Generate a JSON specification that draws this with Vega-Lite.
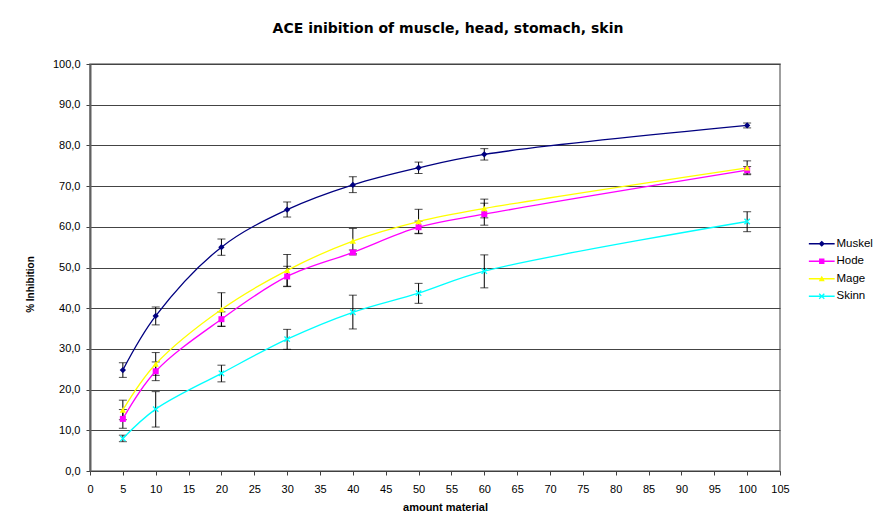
{
  "$schema": "https://vega.github.io/schema/vega-lite/v6.json",
  "width": 690,
  "height": 407,
  "autosize": "none",
  "padding": {"left": 90, "top": 64, "right": 99, "bottom": 50},
  "background": "white",
  "config": {
    "font": "Liberation Sans",
    "view": {"stroke": "#808080", "strokeWidth": 1.5},
    "axis": {"labelFont": "Liberation Sans", "titleFont": "Liberation Sans", "labelColor": "black", "titleColor": "black"}
  },
  "title": {
    "text": "ACE inibition of muscle, head, stomach, skin",
    "fontSize": 14,
    "fontWeight": "bold",
    "font": "DejaVu Sans",
    "anchor": "middle",
    "dx": 13,
    "offset": 22,
    "color": "black"
  },
  "data": {
    "values": [
      {"x": 5, "series": "Muskel", "y": 24.8, "lo": 23.0, "hi": 26.6},
      {"x": 10, "series": "Muskel", "y": 38.1, "lo": 35.9, "hi": 40.3},
      {"x": 20, "series": "Muskel", "y": 55.0, "lo": 53.0, "hi": 57.0},
      {"x": 30, "series": "Muskel", "y": 64.2, "lo": 62.4, "hi": 66.1},
      {"x": 40, "series": "Muskel", "y": 70.3, "lo": 68.4, "hi": 72.3},
      {"x": 50, "series": "Muskel", "y": 74.5, "lo": 73.1, "hi": 75.9},
      {"x": 60, "series": "Muskel", "y": 77.8, "lo": 76.4, "hi": 79.2},
      {"x": 100, "series": "Muskel", "y": 84.9, "lo": 84.3, "hi": 85.5},
      {"x": 5, "series": "Hode", "y": 12.8, "lo": 10.5, "hi": 15.1},
      {"x": 10, "series": "Hode", "y": 24.5, "lo": 22.2, "hi": 26.8},
      {"x": 20, "series": "Hode", "y": 37.3, "lo": 35.5, "hi": 39.1},
      {"x": 30, "series": "Hode", "y": 47.8, "lo": 45.3, "hi": 50.3},
      {"x": 40, "series": "Hode", "y": 53.7, "lo": 53.1, "hi": 54.3},
      {"x": 50, "series": "Hode", "y": 59.9, "lo": 58.4, "hi": 61.4},
      {"x": 60, "series": "Hode", "y": 63.1, "lo": 60.4, "hi": 65.8},
      {"x": 100, "series": "Hode", "y": 73.9, "lo": 73.0, "hi": 74.8},
      {"x": 5, "series": "Mage", "y": 15.0, "lo": 12.6, "hi": 17.4},
      {"x": 10, "series": "Mage", "y": 26.3, "lo": 23.5, "hi": 29.1},
      {"x": 20, "series": "Mage", "y": 39.7, "lo": 35.6, "hi": 43.8},
      {"x": 30, "series": "Mage", "y": 49.3, "lo": 45.4, "hi": 53.2},
      {"x": 40, "series": "Mage", "y": 56.5, "lo": 53.4, "hi": 59.6},
      {"x": 50, "series": "Mage", "y": 61.3, "lo": 58.3, "hi": 64.3},
      {"x": 60, "series": "Mage", "y": 64.5, "lo": 62.2, "hi": 66.8},
      {"x": 100, "series": "Mage", "y": 74.5, "lo": 72.8, "hi": 76.2},
      {"x": 5, "series": "Skinn", "y": 8.0, "lo": 7.2, "hi": 8.8},
      {"x": 10, "series": "Skinn", "y": 15.2, "lo": 10.8, "hi": 19.5},
      {"x": 20, "series": "Skinn", "y": 24.0, "lo": 21.9, "hi": 26.0},
      {"x": 30, "series": "Skinn", "y": 32.4, "lo": 29.9, "hi": 34.8},
      {"x": 40, "series": "Skinn", "y": 39.0, "lo": 34.9, "hi": 43.2},
      {"x": 50, "series": "Skinn", "y": 43.7, "lo": 41.2, "hi": 46.1},
      {"x": 60, "series": "Skinn", "y": 49.1, "lo": 45.0, "hi": 53.1},
      {"x": 100, "series": "Skinn", "y": 61.3, "lo": 58.8, "hi": 63.7}
    ]
  },
  "encoding": {
    "x": {
      "field": "x",
      "type": "quantitative",
      "scale": {"domain": [0, 105], "nice": false},
      "axis": {
        "title": "amount material",
        "titleFontSize": 11,
        "titleFontWeight": "bold",
        "titlePadding": 7,
        "titleX": 355,
        "values": [0,5,10,15,20,25,30,35,40,45,50,55,60,65,70,75,80,85,90,95,100,105],
        "labelFontSize": 11,
        "labelPadding": 8,
        "labelFlush": false,
        "grid": false,
        "domainColor": "#404040",
        "tickColor": "#404040",
        "tickSize": 4
      }
    }
  },
  "layer": [
    {
      "mark": {"type": "rule", "color": "black", "strokeWidth": 1},
      "encoding": {
        "y": {
          "field": "lo",
          "type": "quantitative",
          "scale": {"domain": [0, 100], "nice": false},
          "axis": {
            "title": "% Inhibition",
            "titleFontSize": 10,
            "titleFontWeight": "bold",
            "titlePadding": 17,
            "titleY": 220,
            "values": [0,10,20,30,40,50,60,70,80,90,100],
            "labelExpr": "replace(format(datum.value, '.1f'), '.', ',')",
            "labelFontSize": 11,
            "labelPadding": 6,
            "grid": true,
            "gridColor": "#444444",
            "gridWidth": 1.2,
            "domainColor": "#606060",
            "domainWidth": 2,
            "tickColor": "#404040",
            "tickSize": 4
          }
        },
        "y2": {"field": "hi"}
      }
    },
    {
      "mark": {"type": "tick", "color": "black", "orient": "horizontal", "size": 8, "thickness": 1},
      "encoding": {"y": {"field": "lo", "type": "quantitative"}}
    },
    {
      "mark": {"type": "tick", "color": "black", "orient": "horizontal", "size": 8, "thickness": 1},
      "encoding": {"y": {"field": "hi", "type": "quantitative"}}
    },
    {
      "mark": {"type": "line", "interpolate": "catmull-rom", "strokeWidth": 1.3},
      "encoding": {
        "y": {"field": "y", "type": "quantitative"},
        "color": {
          "field": "series",
          "type": "nominal",
          "scale": {"domain": ["Muskel", "Hode", "Mage", "Skinn"], "range": ["#000080", "#FF00FF", "#FFFF00", "#00FFFF"]}
        },
        "detail": {"field": "series"}
      }
    },
    {
      "transform": [{"filter": "datum.series === 'Muskel'"}],
      "mark": {"type": "point", "filled": true, "opacity": 1, "size": 40, "shape": "diamond", "color": "#000080"},
      "encoding": {"y": {"field": "y", "type": "quantitative"}}
    },
    {
      "transform": [{"filter": "datum.series === 'Hode'"}],
      "mark": {"type": "point", "filled": true, "opacity": 1, "size": 36, "shape": "square", "color": "#FF00FF"},
      "encoding": {"y": {"field": "y", "type": "quantitative"}}
    },
    {
      "transform": [{"filter": "datum.series === 'Mage'"}],
      "mark": {"type": "point", "filled": true, "opacity": 1, "size": 40, "shape": "triangle-up", "color": "#FFFF00"},
      "encoding": {"y": {"field": "y", "type": "quantitative"}}
    },
    {
      "transform": [{"filter": "datum.series === 'Skinn'"}],
      "mark": {"type": "point", "filled": true, "opacity": 1, "size": 40, "shape": "M-1,-0.7L-0.7,-1L0,-0.3L0.7,-1L1,-0.7L0.3,0L1,0.7L0.7,1L0,0.3L-0.7,1L-1,0.7L-0.3,0Z", "color": "#00FFFF"},
      "encoding": {"y": {"field": "y", "type": "quantitative"}}
    },
    {
      "mark": {"type": "point", "filled": true, "opacity": 0, "size": 36},
      "encoding": {
        "y": {"field": "y", "type": "quantitative"},
        "color": {
          "field": "series",
          "type": "nominal",
          "scale": {"domain": ["Muskel", "Hode", "Mage", "Skinn"], "range": ["#000080", "#FF00FF", "#FFFF00", "#00FFFF"]},
          "legend": {
            "title": null,
            "orient": "none",
            "legendX": 726,
            "legendY": 174,
            "padding": 0,
            "labelFontSize": 11.5,
            "labelFont": "Liberation Sans",
            "labelColor": "black",
            "symbolSize": 36,
            "symbolOpacity": 1,
            "symbolStrokeWidth": 0,
            "labelOffset": 9,
            "rowPadding": 4.5
          }
        },
        "shape": {
          "field": "series",
          "type": "nominal",
          "scale": {
            "domain": ["Muskel", "Hode", "Mage", "Skinn"],
            "range": [
              "M-4.3,-0.22H-0.78L0,-1L0.78,-0.22H4.3V0.22H0.78L0,1L-0.78,0.22H-4.3Z",
              "M-4.3,-0.22H-0.9V-0.9H0.9V-0.22H4.3V0.22H0.9V0.9H-0.9V0.22H-4.3Z",
              "M-4.3,-0.22H-0.433L0,-1L0.433,-0.22H4.3V0.22H0.678L1,0.8H-1L-0.678,0.22H-4.3Z",
              "M-4.3,-0.22H4.3V0.22H-4.3Z M-1,-0.7L-0.7,-1L0,-0.3L0.7,-1L1,-0.7L0.3,0L1,0.7L0.7,1L0,0.3L-0.7,1L-1,0.7L-0.3,0Z"
            ]
          },
          "legend": {
            "title": null,
            "orient": "none",
            "legendX": 726,
            "legendY": 174,
            "padding": 0,
            "labelFontSize": 11.5,
            "labelFont": "Liberation Sans",
            "labelColor": "black",
            "symbolSize": 36,
            "symbolOpacity": 1,
            "symbolStrokeWidth": 0,
            "labelOffset": 9,
            "rowPadding": 4.5
          }
        }
      }
    }
  ]
}
